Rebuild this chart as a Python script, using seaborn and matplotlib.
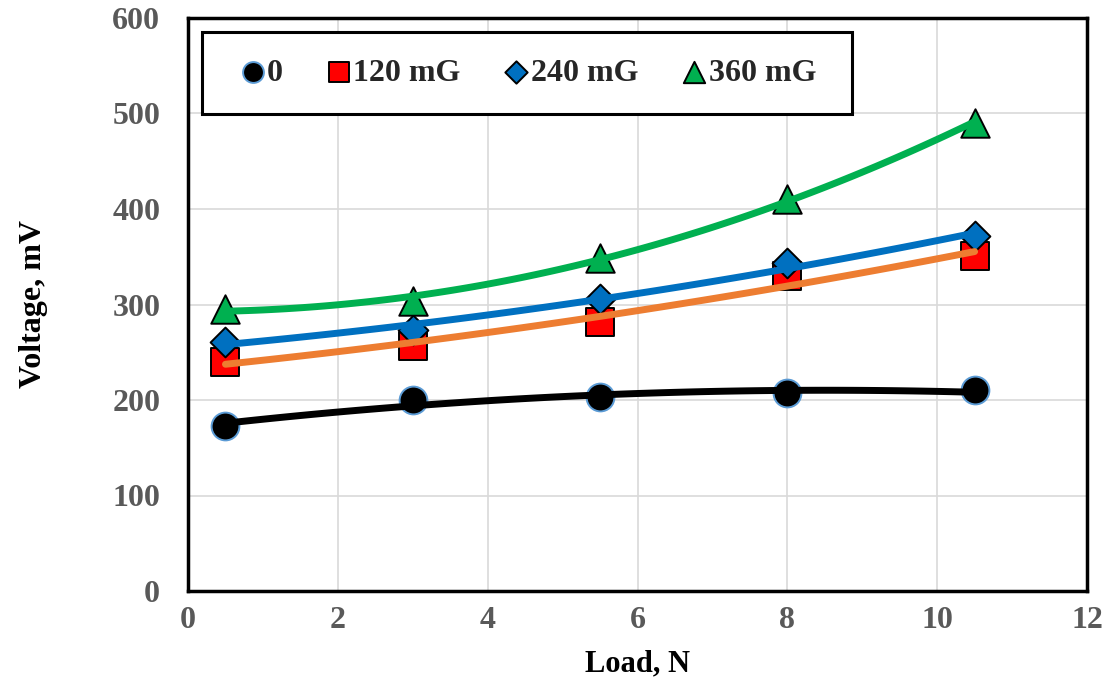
import numpy as np
import pandas as pd
import seaborn as sns
import matplotlib.pyplot as plt
from matplotlib.patches import Rectangle

# ─────────────────────────────────────────────
# Data
# ─────────────────────────────────────────────

load = [0.5, 3, 5.5, 8, 10.5]
v_0 = [173, 200, 203, 207, 210]
v_120 = [240, 257, 282, 330, 351]
v_240 = [261, 273, 306, 343, 372]
v_360 = [295, 304, 349, 410, 490]

labels = ["0", "120 mG", "240 mG", "360 mG"]

# ─────────────────────────────────────────────
# Style
# ─────────────────────────────────────────────

sns.set_style("whitegrid")
plt.rcParams["font.family"] = ["Liberation Serif", "DejaVu Serif"]
plt.rcParams["font.weight"] = "bold"

fig = plt.figure(figsize=(11.07, 6.85), dpi=100)
ax = fig.add_axes([188 / 1107, 1 - 591 / 685, 899 / 1107, 573 / 685])

series = [
    # values, marker, face, edge, size, trend colour
    (v_0, "o", "black", "#5B9BD5", 400, "black"),
    (v_120, "s", "#FF0000", "black", 380, "#ED7D31"),
    (v_240, "D", "#0070C0", "black", 230, "#0070C0"),
    (v_360, "^", "#00B050", "black", 420, "#00B050"),
]

for (vals, mk, face, edge, size, tcol), lab in zip(series, labels):
    df = pd.DataFrame({"Load": load, "Voltage": vals})
    sns.scatterplot(data=df, x="Load", y="Voltage", marker=mk, color=face,
                    edgecolor=edge, linewidth=1.4, s=size, label=lab,
                    ax=ax, zorder=3)

for (vals, mk, face, edge, size, tcol) in series:
    df = pd.DataFrame({"Load": load, "Voltage": vals})
    sns.regplot(data=df, x="Load", y="Voltage", order=2, ci=None,
                scatter=False, truncate=True, ax=ax,
                line_kws={"color": tcol, "lw": 5, "solid_capstyle": "round",
                          "zorder": 4})

# ─────────────────────────────────────────────
# Axes
# ─────────────────────────────────────────────

ax.set_xlim(0, 12)
ax.set_ylim(0, 600)
ax.set_xticks(range(0, 13, 2))
ax.set_yticks(range(0, 601, 100))
ax.grid(True, color="#D9D9D9", lw=1.2)
ax.tick_params(axis="both", labelsize=23, labelcolor="#595959", length=0)
ax.tick_params(axis="x", pad=11)
ax.tick_params(axis="y", pad=20)
for lbl in ax.get_xticklabels() + ax.get_yticklabels():
    lbl.set_fontweight("bold")

for sp in ax.spines.values():
    sp.set_color("black")
    sp.set_linewidth(2.5)
    sp.set_visible(True)

ax.set_xlabel("Load, N", fontsize=22, fontweight="bold", color="black", labelpad=10)
ax.set_ylabel("Voltage, mV", fontsize=23, fontweight="bold", color="black", labelpad=46)

# ─────────────────────────────────────────────
# Legend (frame drawn as its own box)
# ─────────────────────────────────────────────

box = Rectangle((0.0156, 0.8325), 0.723, 0.1431, transform=ax.transAxes,
                facecolor="white", edgecolor="black", lw=2.2, zorder=5)
ax.add_patch(box)

leg = ax.legend(loc="center", bbox_to_anchor=(0.379, 0.904),
                borderaxespad=0, ncol=4, fontsize=23, frameon=False,
                markerscale=0.75, handlelength=0.7, handletextpad=0.1,
                columnspacing=1.4, borderpad=0)
leg.set_zorder(6)
for t in leg.get_texts():
    t.set_fontweight("bold")

fig.savefig("out.png", dpi=100)
